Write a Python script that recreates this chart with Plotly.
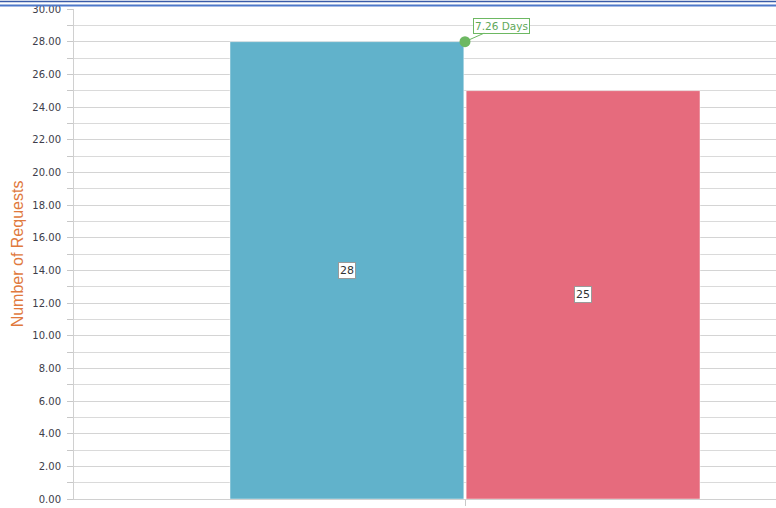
import plotly.graph_objects as go

# ---- data ----
categories = ["Requests"]
series_names = ["Series A", "Series B"]
series_values = [28, 25]
series_colors = ["#61B2CB", "#E66B7D"]
avg_label_value = 7.26          # average duration, shown on the secondary axis
avg_label_unit = "Days"
y_tick_values = list(range(0, 31, 2))
y_tick_labels = [f"{v:.2f}" for v in y_tick_values]

# ---- layout constants ----
W, H = 776, 508
M_L, M_R, M_T, M_B = 74, 0, 9, 9
BARGAP = 0.396
BARGROUPGAP = 0.01
Y_MAX = 30
# secondary axis scaled so the average marker sits level with the tallest bar
Y2_MAX = avg_label_value * Y_MAX / max(series_values)

fig = go.Figure()

for name, val, col in zip(series_names, series_values, series_colors):
    fig.add_trace(go.Bar(
        x=[0], y=[val], name=name,
        marker=dict(color=col, line=dict(color="rgba(255,255,255,0.45)", width=1)),
        showlegend=False, hoverinfo="skip",
    ))

fig.add_trace(go.Scatter(
    x=[0], y=[avg_label_value], yaxis="y2", mode="markers",
    marker=dict(color="#6DB862", size=11),
    showlegend=False, hoverinfo="skip",
))

# value labels centred in each bar
n = len(series_values)
group_w = 1 - BARGAP
bar_w = group_w / n
annotations = []
for i, val in enumerate(series_values):
    cx = -group_w / 2 + bar_w * (i + 0.5)
    annotations.append(dict(
        x=cx, y=val / 2, xref="x", yref="y", text=str(val), showarrow=False,
        font=dict(family="DejaVu Sans", size=11, color="#333333"),
        bgcolor="white", bordercolor="#9a9a9a", borderwidth=1, borderpad=1,
    ))

annotations.append(dict(
    x=0, y=avg_label_value, xref="x", yref="y2",
    text=f"{avg_label_value:.2f} {avg_label_unit}", showarrow=True,
    arrowhead=0, arrowwidth=1, arrowcolor="#6DB862", ax=36, ay=-16,
    font=dict(family="DejaVu Sans", size=10.5, color="#5FA85A"),
    bgcolor="white", bordercolor="#6DB862", borderwidth=1, borderpad=1,
))

plot_h = H - M_T - M_B


def py(pixel_row):
    # pixel row from top of the page -> paper y coordinate
    return (H - M_B - pixel_row) / plot_h


shapes = [
    dict(type="line", xref="paper", yref="paper", x0=-0.2, x1=1.01,
         y0=py(1.5), y1=py(1.5), line=dict(color="#3A5BA8", width=1.5), layer="above"),
    dict(type="line", xref="paper", yref="paper", x0=-0.2, x1=1.01,
         y0=py(5.5), y1=py(5.5), line=dict(color="#4E78C9", width=1.8), layer="above"),
]

fig.update_layout(
    width=W, height=H,
    margin=dict(l=M_L, r=M_R, t=M_T, b=M_B),
    paper_bgcolor="white", plot_bgcolor="white",
    barmode="group", bargap=BARGAP, bargroupgap=BARGROUPGAP,
    annotations=annotations, shapes=shapes,
    xaxis=dict(
        range=[-0.5, -0.5 + (W - M_L - M_R) / 782], tickvals=[0], ticktext=[""],
        ticks="outside", ticklen=6, tickcolor="#c8c8c8",
        showgrid=False, zeroline=False,
        showline=True, linecolor="#d0d0d0", linewidth=1, fixedrange=True,
    ),
    yaxis=dict(
        range=[0, Y_MAX], tickvals=y_tick_values, ticktext=y_tick_labels,
        ticks="outside", ticklen=6, tickcolor="#c8c8c8",
        tickfont=dict(family="DejaVu Sans", size=10, color="#3d3d4a"),
        ticklabelstandoff=4,
        showgrid=True, gridcolor="#d4d4d4", gridwidth=1,
        minor=dict(dtick=1, showgrid=True, gridcolor="#dadada", ticks="outside",
                   ticklen=6, tickcolor="#c8c8c8"),
        zeroline=False, showline=True, linecolor="#d0d0d0", linewidth=1,
        title=dict(text="Number of Requests", standoff=4,
                   font=dict(family="Liberation Sans", size=16, color="#E0793D")),
        automargin=False,
    ),
    yaxis2=dict(range=[0, Y2_MAX], overlaying="y", side="right", visible=False),
)

fig.write_html("out.html")
